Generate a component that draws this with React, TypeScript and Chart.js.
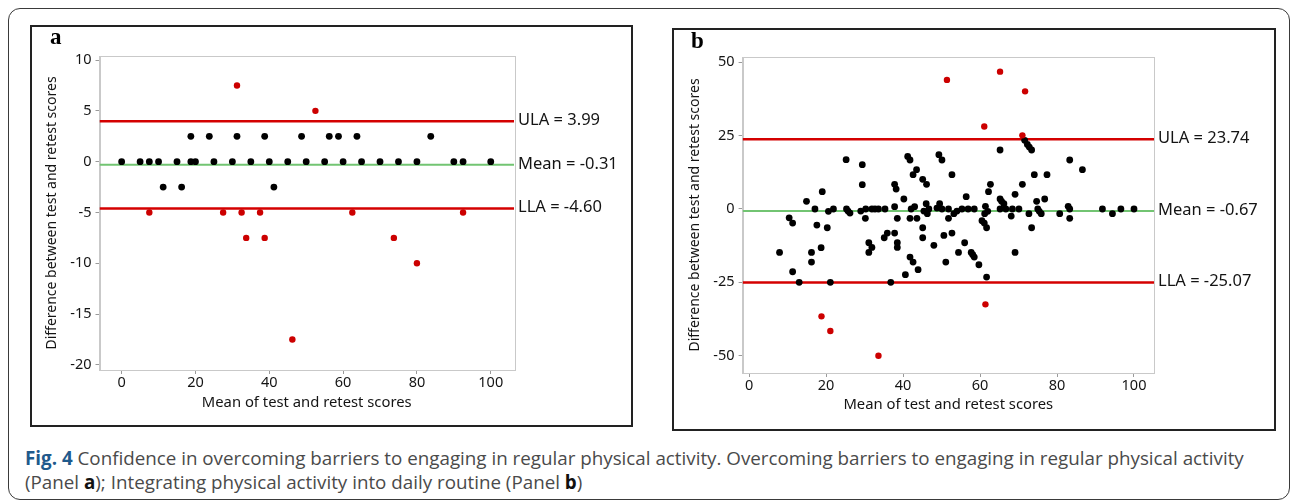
import React, { useEffect, useRef } from "react";
import { Chart, registerables } from "chart.js";

Chart.register(...registerables);

// ---------- data ----------
const xTicks = [0, 20, 40, 60, 80, 100];
const yTicksA = [10, 5, 0, -5, -10, -15, -20];
const yTicksB = [50, 25, 0, -25, -50];

const ulaA = 3.99;
const meanA = -0.31;
const llaA = -4.6;

const ulaB = 23.74;
const meanB = -0.67;
const llaB = -25.07;

// Panel a: points within limits (black)
const aBlackX = [0, 5, 7.5, 10, 15, 18.75, 20, 25, 30, 35, 40, 45, 50, 55, 60, 65, 70, 75, 80, 90, 92.5, 100,
  18.75, 23.75, 31.25, 38.75, 48.75, 56.25, 58.75, 63.75, 83.75,
  11.25, 16.25, 41.25];
const aBlackY = [0, 0, 0, 0, 0, 0, 0, 0, 0, 0, 0, 0, 0, 0, 0, 0, 0, 0, 0, 0, 0, 0,
  2.5, 2.5, 2.5, 2.5, 2.5, 2.5, 2.5, 2.5, 2.5,
  -2.5, -2.5, -2.5];
// Panel a: points outside limits (red)
const aRedX = [31.25, 52.5, 7.5, 27.5, 32.5, 37.5, 62.5, 92.5, 33.75, 38.75, 73.75, 80, 46.25];
const aRedY = [7.5, 5, -5, -5, -5, -5, -5, -5, -7.5, -7.5, -7.5, -10, -17.5];

// Panel b: points within limits (black)
const bBlackX = [7.9, 10.4, 11.3, 11.3, 13, 14.9, 16.2, 16.2, 17.1, 17.6, 18.7, 19, 20.3, 20.6, 21.1, 21.9,
  25.2, 25.3, 25.7, 26.2, 29, 29.4, 29.4, 30.2, 30.3, 31.1, 31.1, 31.9, 31.9, 32.7, 33.6, 35.3, 35.1, 35.9,
  36.8, 37.8, 38.2, 37.8, 37.8, 38.5, 38.5, 38.5, 40.2, 40.6, 41.2, 41.8, 41.8, 41.8, 42.6, 42.6, 42.1, 43,
  43.5, 43.6, 43.9, 45.1, 46.1, 45.1, 45.1, 45.4, 46, 46.3, 46.7, 48, 48.8, 49.3, 50.1, 49.5, 50.1, 50.6,
  51.1, 51.8, 51.8, 52.7, 52.7, 53.2, 54, 54.4, 55.3, 56, 56.4, 56.9, 57.7, 58.1, 58.5, 58.5, 59.7, 60.5,
  61.1, 61.4, 61.2, 61.7, 61.7, 62, 62.2, 62.7, 65.2, 65.2, 65.6, 66.2, 65.2, 66.7, 68.1, 68.4, 69.1, 69.1,
  70.1, 71, 71.6, 72.3, 72.8, 73.4, 72.7, 73.4, 74.1, 74.7, 75, 75.4, 75.9, 76.8, 77.4, 80.7, 82.9, 83.3,
  83.3, 83.3, 86.6, 91.8, 94.4, 96.6, 100];
const bBlackY = [-14.8, -3, -4.8, -21.4, -25, 2.6, -14.8, -18.1, 0, -5.5, -13.2, 5.9, -6.4, -0.8, -25, 0,
  16.8, 0, -0.7, -1.4, -0.7, 15.1, 8.3, -3.2, 0, -11.5, -14.8, -13.1, 0, 0, 0, 0, -9.8, -8.2,
  -25, 8.4, 6.8, 0.8, -8.2, -11.5, -13.1, -3.2, 3.4, -22.4, 17.9, 16.7, -3.2, -16.4, -18.1, 11.7, 0, 0.8,
  13.4, -3.2, -20.7, 10.1, 8.4, -6.4, -9.8, -0.7, 1.8, -1.6, 0, -12.4, 0.3, 18.5, 16.7, 1.8, 0, -9,
  -18.1, 0, -3.2, 11.7, -8.2, -1.6, -0.7, -14.8, 0, -11.5, 4.2, 0, -14.8, -15.6, -16.4, 0, -19, -4,
  -4.8, 0.9, -1.6, -6.4, -23.2, -0.8, 5.9, 8.4, 20.1, 3.4, 2.6, 1.8, 0, 0, -2.4, 0, 5, -14.8,
  0, 8.4, 23.4, 22, 21.1, 20.1, -1.6, -6.4, 11.7, 2.6, 0, -0.8, -1.6, 3.4, 11.7, -1.6, 0.9, 0,
  -3.2, 16.7, 13.4, 0, -1.6, 0, 0];
// Panel b: points outside limits (red)
const bRedX = [51.4, 65.2, 71.7, 61.1, 71, 18.8, 21.1, 33.6, 61.4];
const bRedY = [44, 46.8, 40.1, 28.1, 25.1, -36.6, -41.6, -50, -32.5];

// ---------- styling ----------
const FONT = "'Noto Sans', 'Open Sans', sans-serif";
const TEXT = "#141414";
const RED = "#d40000";
const GREEN = "#72c472";

const limitLabels = {
  id: "limitLabels",
  afterDatasetsDraw(chart: any, _args: any, opts: any) {
    const { ctx, chartArea, scales } = chart;
    ctx.save();
    ctx.font = `16.5px ${FONT}`;
    ctx.fillStyle = TEXT;
    ctx.textBaseline = "middle";
    ctx.textAlign = "left";
    for (const item of opts.items || []) {
      const y = scales.y.getPixelForValue(item.value);
      ctx.fillText(item.text, chartArea.right + 4, y - 1);
    }
    ctx.restore();
  },
};

const plotFrame = {
  id: "plotFrame",
  beforeDatasetsDraw(chart: any) {
    const { ctx, chartArea } = chart;
    ctx.save();
    ctx.strokeStyle = "#c9c9c9";
    ctx.lineWidth = 1;
    ctx.strokeRect(
      Math.round(chartArea.left) + 0.5,
      Math.round(chartArea.top) + 0.5,
      Math.round(chartArea.right - chartArea.left),
      Math.round(chartArea.bottom - chartArea.top)
    );
    ctx.restore();
  },
};

type PanelProps = {
  width: number;
  height: number;
  blackX: number[];
  blackY: number[];
  redX: number[];
  redY: number[];
  ula: number;
  mean: number;
  lla: number;
  xMin: number;
  xMax: number;
  yMin: number;
  yMax: number;
  yTicks: number[];
  pad: { top: number; right: number; bottom: number };
  yAxisWidth: number;
  xAxisHeight: number;
  yTitlePad: number;
  xTitlePad: number;
};

function Panel(p: PanelProps) {
  const ref = useRef<HTMLCanvasElement | null>(null);
  useEffect(() => {
    if (!ref.current) return;
    const black = p.blackX.map((x, i) => ({ x, y: p.blackY[i] }));
    const red = p.redX.map((x, i) => ({ x, y: p.redY[i] }));
    const hline = (v: number) => [
      { x: p.xMin, y: v },
      { x: p.xMax, y: v },
    ];
    const chart = new Chart(ref.current, {
      type: "scatter",
      data: {
        datasets: [
          {
            type: "scatter",
            data: black,
            backgroundColor: "#000",
            borderColor: "#000",
            pointRadius: 3.4,
            borderWidth: 0,
            order: 1,
          },
          {
            type: "scatter",
            data: red,
            backgroundColor: "#cc0000",
            borderColor: "#cc0000",
            pointRadius: 3.2,
            borderWidth: 0,
            order: 0,
          },
          {
            type: "line",
            data: hline(p.ula),
            borderColor: RED,
            borderWidth: 2.5,
            pointRadius: 0,
            order: 3,
          },
          {
            type: "line",
            data: hline(p.mean),
            borderColor: GREEN,
            borderWidth: 2,
            pointRadius: 0,
            order: 3,
          },
          {
            type: "line",
            data: hline(p.lla),
            borderColor: RED,
            borderWidth: 2.5,
            pointRadius: 0,
            order: 3,
          },
        ] as any,
      },
      options: {
        animation: false,
        responsive: false,
        devicePixelRatio: 1,
        events: [],
        layout: { padding: { left: 0, top: p.pad.top, right: p.pad.right, bottom: p.pad.bottom } },
        plugins: {
          legend: { display: false },
          tooltip: { enabled: false },
          limitLabels: {
            items: [
              { value: p.ula, text: `ULA = ${p.ula.toFixed(2)}` },
              { value: p.mean, text: `Mean = ${p.mean.toFixed(2)}` },
              { value: p.lla, text: `LLA = ${p.lla.toFixed(2)}` },
            ],
          },
        } as any,
        scales: {
          x: {
            type: "linear",
            min: p.xMin,
            max: p.xMax,
            afterBuildTicks: (s: any) => {
              s.ticks = xTicks.map((v) => ({ value: v }));
            },
            afterFit: (s: any) => {
              s.height = p.xAxisHeight;
            },
            grid: {
              drawOnChartArea: false,
              drawTicks: true,
              tickLength: 4,
              color: "#9a9a9a",
            },
            border: { display: true, color: "#c9c9c9" },
            ticks: {
              padding: 0,
              color: TEXT,
              font: { family: FONT, size: 14.5 },
              maxRotation: 0,
              autoSkip: false,
            },
            title: {
              display: true,
              text: "Mean of test and retest scores",
              color: TEXT,
              font: { family: FONT, size: 14.8 },
              padding: { top: 0, bottom: p.xTitlePad },
            },
          },
          y: {
            type: "linear",
            min: p.yMin,
            max: p.yMax,
            afterBuildTicks: (s: any) => {
              s.ticks = p.yTicks.map((v) => ({ value: v }));
            },
            afterFit: (s: any) => {
              s.width = p.yAxisWidth;
            },
            grid: {
              drawOnChartArea: false,
              drawTicks: true,
              tickLength: 4,
              color: "#9a9a9a",
            },
            border: { display: true, color: "#c9c9c9" },
            ticks: {
              padding: 4,
              color: TEXT,
              font: { family: FONT, size: 14.5 },
              autoSkip: false,
            },
            title: {
              display: true,
              text: "Difference between test and retest scores",
              color: TEXT,
              font: { family: FONT, size: 14 },
              padding: { top: p.yTitlePad, bottom: 0 },
            },
          },
        },
      },
      plugins: [plotFrame, limitLabels],
    });
    return () => chart.destroy();
  }, []);
  return (
    <canvas
      ref={ref}
      width={p.width}
      height={p.height}
      style={{ width: p.width, height: p.height, display: "block" }}
    />
  );
}

export default function App() {
  return (
    <div
      style={{
        position: "absolute",
        left: 0,
        top: 0,
        width: 1292,
        height: 502,
        background: "#fff",
        overflow: "hidden",
      }}
    >
      {/* outer rounded box */}
      <div
        style={{
          position: "absolute",
          left: 8,
          top: 8,
          width: 1282,
          height: 492,
          border: "1px solid #3a3a3a",
          borderRadius: 12,
          boxSizing: "border-box",
        }}
      />
      {/* panel a frame */}
      <div
        style={{
          position: "absolute",
          left: 30,
          top: 25,
          width: 603,
          height: 402,
          border: "2px solid #222",
          boxSizing: "border-box",
        }}
      />
      <div style={{ position: "absolute", left: 32, top: 27 }}>
        <Panel
          width={599}
          height={398}
          blackX={aBlackX}
          blackY={aBlackY}
          redX={aRedX}
          redY={aRedY}
          ula={ulaA}
          mean={meanA}
          lla={llaA}
          xMin={-6}
          xMax={106.3}
          yMin={-20.5}
          yMax={10.4}
          yTicks={yTicksA}
          pad={{ top: 29, right: 117, bottom: 5 }}
          yAxisWidth={67.5}
          xAxisHeight={50}
          yTitlePad={12}
          xTitlePad={8.6}
        />
      </div>
      <div
        style={{
          position: "absolute",
          left: 50,
          top: 24,
          fontFamily: "'Liberation Serif', 'DejaVu Serif', serif",
          fontWeight: "bold",
          fontSize: 23,
          color: "#000",
        }}
      >
        a
      </div>

      {/* panel b frame */}
      <div
        style={{
          position: "absolute",
          left: 672,
          top: 28,
          width: 604,
          height: 403,
          border: "2px solid #222",
          boxSizing: "border-box",
        }}
      />
      <div style={{ position: "absolute", left: 674, top: 30 }}>
        <Panel
          width={600}
          height={399}
          blackX={bBlackX}
          blackY={bBlackY}
          redX={bRedX}
          redY={bRedY}
          ula={ulaB}
          mean={meanB}
          lla={llaB}
          xMin={-1.7}
          xMax={105.2}
          yMin={-55.9}
          yMax={51.8}
          yTicks={yTicksB}
          pad={{ top: 27, right: 120, bottom: 6 }}
          yAxisWidth={68.6}
          xAxisHeight={50}
          yTitlePad={12.6}
          xTitlePad={9.6}
        />
      </div>
      <div
        style={{
          position: "absolute",
          left: 691,
          top: 28,
          fontFamily: "'Liberation Serif', 'DejaVu Serif', serif",
          fontWeight: "bold",
          fontSize: 23,
          color: "#000",
        }}
      >
        b
      </div>

      {/* caption */}
      <div
        style={{
          position: "absolute",
          left: 25,
          top: 446,
          fontFamily: "'Open Sans', 'Noto Sans', sans-serif",
          fontSize: 18.8,
          lineHeight: "24px",
          color: "#4a4a4a",
          whiteSpace: "nowrap",
        }}
      >
        <div>
          <b style={{ color: "#1f5a8c" }}>Fig. 4</b> Confidence in overcoming barriers to engaging in regular physical
          activity. Overcoming barriers to engaging in regular physical activity
        </div>
        <div>
          (Panel <b style={{ color: "#111" }}>a</b>); Integrating physical activity into daily routine (Panel{" "}
          <b style={{ color: "#111" }}>b</b>)
        </div>
      </div>
    </div>
  );
}
